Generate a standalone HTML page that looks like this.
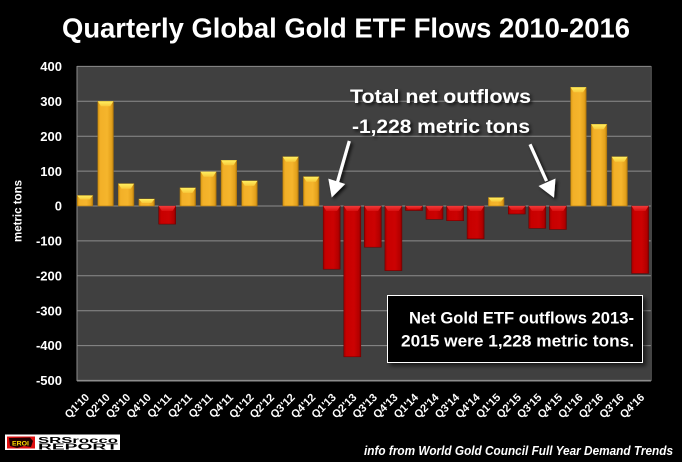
<!DOCTYPE html>
<html>
<head>
<meta charset="utf-8">
<style>
html,body{margin:0;padding:0;background:#000;}
svg{display:block;}
text{font-family:"Liberation Sans",Arial,sans-serif;}
</style>
</head>
<body>
<svg width="682" height="462" viewBox="0 0 682 462" xmlns="http://www.w3.org/2000/svg">
<defs>
  <linearGradient id="yg" x1="0" y1="0" x2="1" y2="0">
    <stop offset="0" stop-color="#D4940F"/>
    <stop offset="0.15" stop-color="#F2B028"/>
    <stop offset="0.6" stop-color="#F5B52C"/>
    <stop offset="0.88" stop-color="#E3A11C"/>
    <stop offset="1" stop-color="#B87C0C"/>
  </linearGradient>
  <linearGradient id="yt" x1="0" y1="0" x2="0" y2="1">
    <stop offset="0" stop-color="#FFF060"/>
    <stop offset="1" stop-color="#F8C83A"/>
  </linearGradient>
  <linearGradient id="rg" x1="0" y1="0" x2="1" y2="0">
    <stop offset="0" stop-color="#A00000"/>
    <stop offset="0.15" stop-color="#C80000"/>
    <stop offset="0.6" stop-color="#CC0202"/>
    <stop offset="0.88" stop-color="#B40000"/>
    <stop offset="1" stop-color="#8A0000"/>
  </linearGradient>
  <linearGradient id="rt" x1="0" y1="0" x2="0" y2="1">
    <stop offset="0" stop-color="#F23A3A"/>
    <stop offset="1" stop-color="#D81010"/>
  </linearGradient>
  <filter id="sh" x="-10%" y="-30%" width="130%" height="170%">
    <feDropShadow dx="2" dy="2" stdDeviation="1.5" flood-color="#000" flood-opacity="0.8"/>
  </filter>
  <filter id="bsh" x="-5%" y="-10%" width="115%" height="130%">
    <feDropShadow dx="3" dy="3" stdDeviation="2" flood-color="#000" flood-opacity="0.6"/>
  </filter>
</defs>

<rect width="682" height="462" fill="#000"/>

<!-- Title -->
<text x="62" y="37.5" font-size="28" font-weight="bold" fill="#fff" textLength="568" lengthAdjust="spacingAndGlyphs">Quarterly Global Gold ETF Flows 2010-2016</text>

<!-- Plot area -->
<rect x="77" y="66.4" width="574" height="314.1" fill="#404040"/>
<g stroke="#8C8C8C" stroke-width="1">
  <line x1="77" y1="66.4" x2="651" y2="66.4"/>
  <line x1="77" y1="101.3" x2="651" y2="101.3"/>
  <line x1="77" y1="136.2" x2="651" y2="136.2"/>
  <line x1="77" y1="171.1" x2="651" y2="171.1"/>
  <line x1="77" y1="206" x2="651" y2="206"/>
  <line x1="77" y1="240.9" x2="651" y2="240.9"/>
  <line x1="77" y1="275.8" x2="651" y2="275.8"/>
  <line x1="77" y1="310.7" x2="651" y2="310.7"/>
  <line x1="77" y1="345.6" x2="651" y2="345.6"/>
  <line x1="77" y1="66" x2="77" y2="381"/>
</g>
<line x1="77" y1="380.7" x2="651" y2="380.7" stroke="#8C8C8C" stroke-width="1.6"/>
<line x1="651.3" y1="66" x2="651.3" y2="381" stroke="#555" stroke-width="1"/>

<!-- Y labels -->
<g font-size="13" font-weight="bold" fill="#fff" text-anchor="end">
  <text x="62" y="71">400</text>
  <text x="62" y="106">300</text>
  <text x="62" y="141">200</text>
  <text x="62" y="176">100</text>
  <text x="62" y="210.5">0</text>
  <text x="62" y="245.5">-100</text>
  <text x="62" y="280.5">-200</text>
  <text x="62" y="315.5">-300</text>
  <text x="62" y="350">-400</text>
  <text x="62" y="385">-500</text>
</g>
<text transform="translate(21.5,211) rotate(-90)" font-size="11.5" font-weight="bold" fill="#fff" text-anchor="middle">metric  tons</text>

<!-- Yellow bars -->
<g stroke="#A87410" stroke-width="0.6">
  <g transform="translate(77.2,195.5)"><rect width="15.6" height="10.5" fill="url(#yg)"/><polygon points="0,0 15.6,0 12.4,4 3.2,4" fill="url(#yt)" stroke="none"/></g>
  <g transform="translate(97.8,101.3)"><rect width="15.6" height="104.7" fill="url(#yg)"/><polygon points="0,0 15.6,0 12.4,5 3.2,5" fill="url(#yt)" stroke="none"/></g>
  <g transform="translate(118.3,183.7)"><rect width="15.6" height="22.3" fill="url(#yg)"/><polygon points="0,0 15.6,0 12.4,5 3.2,5" fill="url(#yt)" stroke="none"/></g>
  <g transform="translate(138.9,199)"><rect width="15.6" height="7" fill="url(#yg)"/><polygon points="0,0 15.6,0 12.4,4 3.2,4" fill="url(#yt)" stroke="none"/></g>
  <g transform="translate(180,187.9)"><rect width="15.6" height="18.1" fill="url(#yg)"/><polygon points="0,0 15.6,0 12.4,5 3.2,5" fill="url(#yt)" stroke="none"/></g>
  <g transform="translate(200.6,171.8)"><rect width="15.6" height="34.2" fill="url(#yg)"/><polygon points="0,0 15.6,0 12.4,5 3.2,5" fill="url(#yt)" stroke="none"/></g>
  <g transform="translate(221.1,160.3)"><rect width="15.6" height="45.7" fill="url(#yg)"/><polygon points="0,0 15.6,0 12.4,5 3.2,5" fill="url(#yt)" stroke="none"/></g>
  <g transform="translate(241.7,180.9)"><rect width="15.6" height="25.1" fill="url(#yg)"/><polygon points="0,0 15.6,0 12.4,5 3.2,5" fill="url(#yt)" stroke="none"/></g>
  <g transform="translate(282.8,156.8)"><rect width="15.6" height="49.2" fill="url(#yg)"/><polygon points="0,0 15.6,0 12.4,5 3.2,5" fill="url(#yt)" stroke="none"/></g>
  <g transform="translate(303.4,176.7)"><rect width="15.6" height="29.3" fill="url(#yg)"/><polygon points="0,0 15.6,0 12.4,5 3.2,5" fill="url(#yt)" stroke="none"/></g>
  <g transform="translate(488.4,197.6)"><rect width="15.6" height="8.4" fill="url(#yg)"/><polygon points="0,0 15.6,0 12.4,4 3.2,4" fill="url(#yt)" stroke="none"/></g>
  <g transform="translate(570.6,87.3)"><rect width="15.6" height="118.7" fill="url(#yg)"/><polygon points="0,0 15.6,0 12.4,5 3.2,5" fill="url(#yt)" stroke="none"/></g>
  <g transform="translate(591.2,124.3)"><rect width="15.6" height="81.7" fill="url(#yg)"/><polygon points="0,0 15.6,0 12.4,5 3.2,5" fill="url(#yt)" stroke="none"/></g>
  <g transform="translate(611.8,156.8)"><rect width="15.6" height="49.2" fill="url(#yg)"/><polygon points="0,0 15.6,0 12.4,5 3.2,5" fill="url(#yt)" stroke="none"/></g>
</g>

<!-- Red bars -->
<g stroke="#6E0000" stroke-width="0.6">
  <g transform="translate(158.7,206)"><rect width="17" height="18.1" fill="url(#rg)"/><polygon points="0,0 17,0 13.8,5 3.2,5" fill="url(#rt)" stroke="none"/></g>
  <g transform="translate(323.2,206)"><rect width="17" height="63.2" fill="url(#rg)"/><polygon points="0,0 17,0 13.8,5 3.2,5" fill="url(#rt)" stroke="none"/></g>
  <g transform="translate(343.8,206)"><rect width="17" height="150.8" fill="url(#rg)"/><polygon points="0,0 17,0 13.8,5 3.2,5" fill="url(#rt)" stroke="none"/></g>
  <g transform="translate(364.3,206)"><rect width="17" height="41.2" fill="url(#rg)"/><polygon points="0,0 17,0 13.8,5 3.2,5" fill="url(#rt)" stroke="none"/></g>
  <g transform="translate(384.9,206)"><rect width="17" height="64.6" fill="url(#rg)"/><polygon points="0,0 17,0 13.8,5 3.2,5" fill="url(#rt)" stroke="none"/></g>
  <g transform="translate(405.5,206)"><rect width="17" height="4.5" fill="url(#rg)"/><polygon points="0,0 17,0 14.4,3 2.6,3" fill="url(#rt)" stroke="none"/></g>
  <g transform="translate(426,206)"><rect width="17" height="13.3" fill="url(#rg)"/><polygon points="0,0 17,0 13.8,5 3.2,5" fill="url(#rt)" stroke="none"/></g>
  <g transform="translate(446.6,206)"><rect width="17" height="14.7" fill="url(#rg)"/><polygon points="0,0 17,0 13.8,5 3.2,5" fill="url(#rt)" stroke="none"/></g>
  <g transform="translate(467.1,206)"><rect width="17" height="32.8" fill="url(#rg)"/><polygon points="0,0 17,0 13.8,5 3.2,5" fill="url(#rt)" stroke="none"/></g>
  <g transform="translate(508.3,206)"><rect width="17" height="8" fill="url(#rg)"/><polygon points="0,0 17,0 13.8,4 3.2,4" fill="url(#rt)" stroke="none"/></g>
  <g transform="translate(528.8,206)"><rect width="17" height="22.3" fill="url(#rg)"/><polygon points="0,0 17,0 13.8,5 3.2,5" fill="url(#rt)" stroke="none"/></g>
  <g transform="translate(549.4,206)"><rect width="17" height="23.4" fill="url(#rg)"/><polygon points="0,0 17,0 13.8,5 3.2,5" fill="url(#rt)" stroke="none"/></g>
  <g transform="translate(631.6,206)"><rect width="17" height="67.4" fill="url(#rg)"/><polygon points="0,0 17,0 13.8,5 3.2,5" fill="url(#rt)" stroke="none"/></g>
</g>

<!-- X labels -->
<g font-size="11" font-weight="bold" fill="#fff" text-anchor="end">
  <text transform="translate(90,398) rotate(-45)">Q1'10</text>
  <text transform="translate(110.6,398) rotate(-45)">Q2'10</text>
  <text transform="translate(131.1,398) rotate(-45)">Q3'10</text>
  <text transform="translate(151.7,398) rotate(-45)">Q4'10</text>
  <text transform="translate(172.2,398) rotate(-45)">Q1'11</text>
  <text transform="translate(192.8,398) rotate(-45)">Q2'11</text>
  <text transform="translate(213.4,398) rotate(-45)">Q3'11</text>
  <text transform="translate(233.9,398) rotate(-45)">Q4'11</text>
  <text transform="translate(254.5,398) rotate(-45)">Q1'12</text>
  <text transform="translate(275,398) rotate(-45)">Q2'12</text>
  <text transform="translate(295.6,398) rotate(-45)">Q3'12</text>
  <text transform="translate(316.2,398) rotate(-45)">Q4'12</text>
  <text transform="translate(336.7,398) rotate(-45)">Q1'13</text>
  <text transform="translate(357.3,398) rotate(-45)">Q2'13</text>
  <text transform="translate(377.8,398) rotate(-45)">Q3'13</text>
  <text transform="translate(398.4,398) rotate(-45)">Q4'13</text>
  <text transform="translate(419,398) rotate(-45)">Q1'14</text>
  <text transform="translate(439.5,398) rotate(-45)">Q2'14</text>
  <text transform="translate(460.1,398) rotate(-45)">Q3'14</text>
  <text transform="translate(480.6,398) rotate(-45)">Q4'14</text>
  <text transform="translate(501.2,398) rotate(-45)">Q1'15</text>
  <text transform="translate(521.8,398) rotate(-45)">Q2'15</text>
  <text transform="translate(542.3,398) rotate(-45)">Q3'15</text>
  <text transform="translate(562.9,398) rotate(-45)">Q4'15</text>
  <text transform="translate(583.4,398) rotate(-45)">Q1'16</text>
  <text transform="translate(604,398) rotate(-45)">Q2'16</text>
  <text transform="translate(624.6,398) rotate(-45)">Q3'16</text>
  <text transform="translate(645.1,398) rotate(-45)">Q4'16</text>
</g>

<!-- Annotation text -->
<g font-size="19" font-weight="bold" fill="#fff" filter="url(#sh)">
  <text x="350" y="103" textLength="181" lengthAdjust="spacingAndGlyphs">Total net outflows</text>
  <text x="352" y="133" textLength="178" lengthAdjust="spacingAndGlyphs">-1,228 metric tons</text>
</g>

<!-- Arrows -->
<g fill="#fff" stroke="#fff" filter="url(#sh)">
  <line x1="349.3" y1="141" x2="337.5" y2="182" stroke-width="3.2"/>
  <polygon points="331.7,197.5 345.2,184 328.3,178.6" stroke="none"/>
  <line x1="530" y1="144.3" x2="546.5" y2="181" stroke-width="3.2"/>
  <polygon points="554,197.7 555.5,178.5 538.5,186" stroke="none"/>
</g>

<!-- Info box -->
<rect x="387.5" y="295.5" width="255" height="67" fill="#000" stroke="#fff" stroke-width="1" filter="url(#bsh)"/>
<g font-size="17" font-weight="bold" fill="#fff" text-anchor="end">
  <text x="634" y="323.5" textLength="225" lengthAdjust="spacingAndGlyphs">Net Gold ETF outflows 2013-</text>
  <text x="634" y="346.5" textLength="233" lengthAdjust="spacingAndGlyphs">2015 were 1,228 metric tons.</text>
</g>

<!-- Credit -->
<text x="364" y="455" font-size="13" font-weight="bold" font-style="italic" fill="#fff" textLength="309" lengthAdjust="spacingAndGlyphs">info from World Gold Council Full Year Demand Trends</text>

<!-- Logo -->
<rect x="5" y="434.5" width="115" height="15.5" fill="#fff"/>
<rect x="7" y="436.5" width="28" height="12" fill="#E01010"/>
<path d="M9,438 L30,437.5 L33,441 L31,447 L24,446 L17,448 L10,446 Z" fill="#200000"/>
<text x="12" y="445.5" font-size="6.5" font-weight="bold" fill="#FFE000" textLength="17" lengthAdjust="spacingAndGlyphs">EROI</text>
<text x="38" y="443" font-size="8" font-weight="bold" fill="#000" textLength="80" lengthAdjust="spacingAndGlyphs">SRSrocco</text>
<text x="38" y="449.5" font-size="8" font-weight="bold" fill="#000" textLength="80" lengthAdjust="spacingAndGlyphs">REPORT</text>
</svg>
</body>
</html>
